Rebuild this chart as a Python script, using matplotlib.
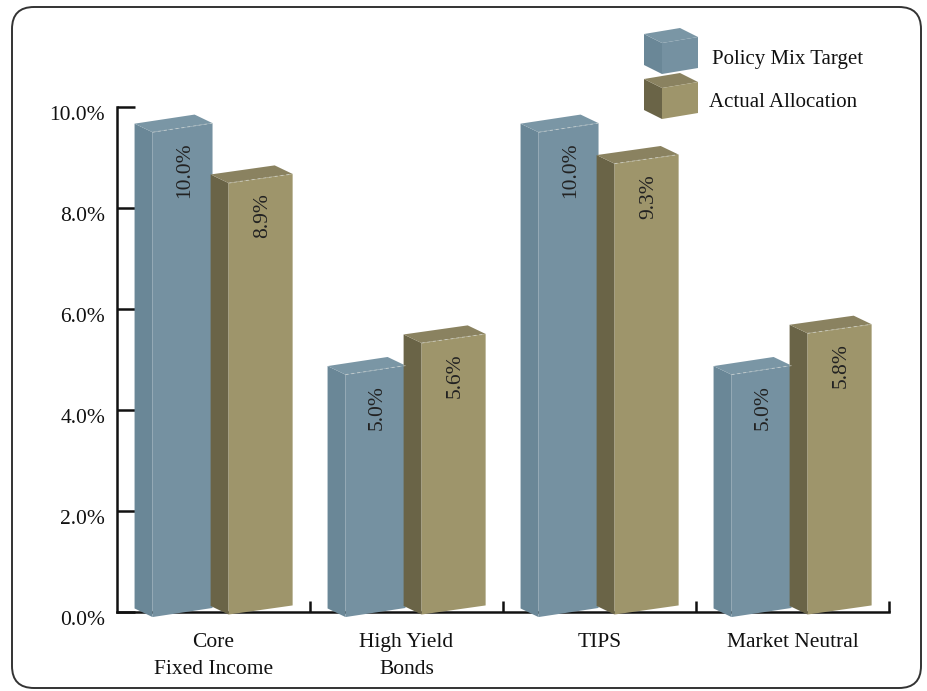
import matplotlib
matplotlib.use("Agg")
import matplotlib.pyplot as plt
from matplotlib.patches import Polygon, FancyBboxPatch
import matplotlib.transforms as mtransforms

plt.rcParams['font.family'] = ['Liberation Serif', 'DejaVu Serif']

categories = ['Core\nFixed Income', 'High Yield\nBonds', 'TIPS', 'Market Neutral']
policy = [10.0, 5.0, 10.0, 5.0]
actual = [8.9, 5.6, 9.3, 5.8]
series = ['Policy Mix Target', 'Actual Allocation']
yticks = [0, 2, 4, 6, 8, 10]
ytick_labels = ['0.0%', '2.0%', '4.0%', '6.0%', '8.0%', '10.0%']

# face colours: front, side, top
blue = ('#7591a1', '#6a8797', '#7a96a5')
tan = ('#9e956b', '#6a6447', '#8a8260')

W, H = 927, 691
fig = plt.figure(figsize=(W / 100, H / 100), dpi=100)

# background layer in pixel coords (frame + legend)
bg = fig.add_axes([0, 0, 1, 1])
bg.set_xlim(0, W)
bg.set_ylim(H, 0)
bg.set_axis_off()
frame = FancyBboxPatch((12, 7), 909, 681, boxstyle="round,pad=0,rounding_size=22",
                       fc='white', ec='#333333', lw=1.4)
bg.add_patch(frame)


def cube_px(ax, x0, y0, w, h, cols):
    # y0 = front top-left (pixels, y down)
    dx, dy, sl = -18, -9, -6
    ftl = (x0, y0); ftr = (x0 + w, y0 + sl)
    fbl = (x0, y0 + h); fbr = (x0 + w, y0 + sl + h)
    front = [ftl, ftr, fbr, fbl]
    side = [(x0 + dx, y0 + dy), ftl, fbl, (x0 + dx, y0 + h + dy)]
    top = [(x0 + dx, y0 + dy), ftl, ftr, (x0 + w + dx, y0 + sl + dy)]
    ax.add_patch(Polygon(side, closed=True, fc=cols[1], ec='none'))
    ax.add_patch(Polygon(top, closed=True, fc=cols[2], ec='none'))
    ax.add_patch(Polygon(front, closed=True, fc=cols[0], ec='none'))


cube_px(bg, 662, 43, 36, 31, blue)
cube_px(bg, 662, 88, 36, 31, tan)
bg.text(712, 59, series[0], fontsize=15, va='center', ha='left', color='#111111')
bg.text(709, 102, series[1], fontsize=15, va='center', ha='left', color='#111111')

# main axes
ax = fig.add_axes([117 / W, 1 - 612 / H, (889 - 117) / W, (612 - 107) / H])
ax.patch.set_alpha(0)
ax.set_xlim(-0.5, 3.5)
ax.set_ylim(0, 10)


def draw_bar(ax, x0, x1, val, base0, cols):
    dx, dy, slope = -0.093, 0.17, 0.18
    h = val * 0.96
    fbl = (x0, base0); fbr = (x1, base0 + slope)
    ftl = (x0, base0 + h); ftr = (x1, base0 + slope + h)
    front = [fbl, fbr, ftr, ftl]
    side = [(x0 + dx, base0 + dy), fbl, ftl, (x0 + dx, base0 + h + dy)]
    top = [ftl, ftr, (x1 + dx, base0 + slope + h + dy), (x0 + dx, base0 + h + dy)]
    ax.add_patch(Polygon(side, closed=True, fc=cols[1], ec='none', clip_on=False, zorder=3))
    ax.add_patch(Polygon(top, closed=True, fc=cols[2], ec='none', clip_on=False, zorder=3))
    ax.add_patch(Polygon(front, closed=True, fc=cols[0], ec='none', clip_on=False, zorder=3))
    ax.plot([x0, x1], [base0 + h, base0 + slope + h], ls=(0, (3, 3)), lw=0.7,
            color='#d8dcd8', alpha=0.6, zorder=4, clip_on=False)
    ax.text((x0 + x1) / 2 + 0.01, base0 + h - 0.2, '%.1f%%' % val, rotation=90,
            ha='center', va='top', fontsize=15.5, color='#222222', zorder=5)


for i in range(len(categories)):
    draw_bar(ax, i - 0.316, i - 0.005, policy[i], -0.1, blue)
    draw_bar(ax, i + 0.078, i + 0.41, actual[i], -0.05, tan)

for s in ['top', 'right']:
    ax.spines[s].set_visible(False)
for s in ['left', 'bottom']:
    ax.spines[s].set_linewidth(1.8)
    ax.spines[s].set_color('#111111')

ax.set_yticks(yticks)
ax.set_yticklabels(ytick_labels, fontsize=15.5, color='#111111')
ax.tick_params(axis='y', direction='in', length=13, width=1.8, pad=8.5, color='#111111')
off = mtransforms.ScaledTranslation(0, -6 / 100, fig.dpi_scale_trans)
for lab in ax.get_yticklabels():
    lab.set_transform(lab.get_transform() + off)

ax.set_xticks([0.5, 1.5, 2.5, 3.5])
ax.set_xticklabels([])
ax.tick_params(axis='x', which='major', direction='in', length=8, width=1.8, color='#111111')
ax.set_xticks(range(len(categories)), minor=True)
ax.set_xticklabels(categories, minor=True, fontsize=15.5, color='#111111', linespacing=1.55)
ax.tick_params(axis='x', which='minor', length=0, pad=15)

fig.savefig('out.png', dpi=100)
